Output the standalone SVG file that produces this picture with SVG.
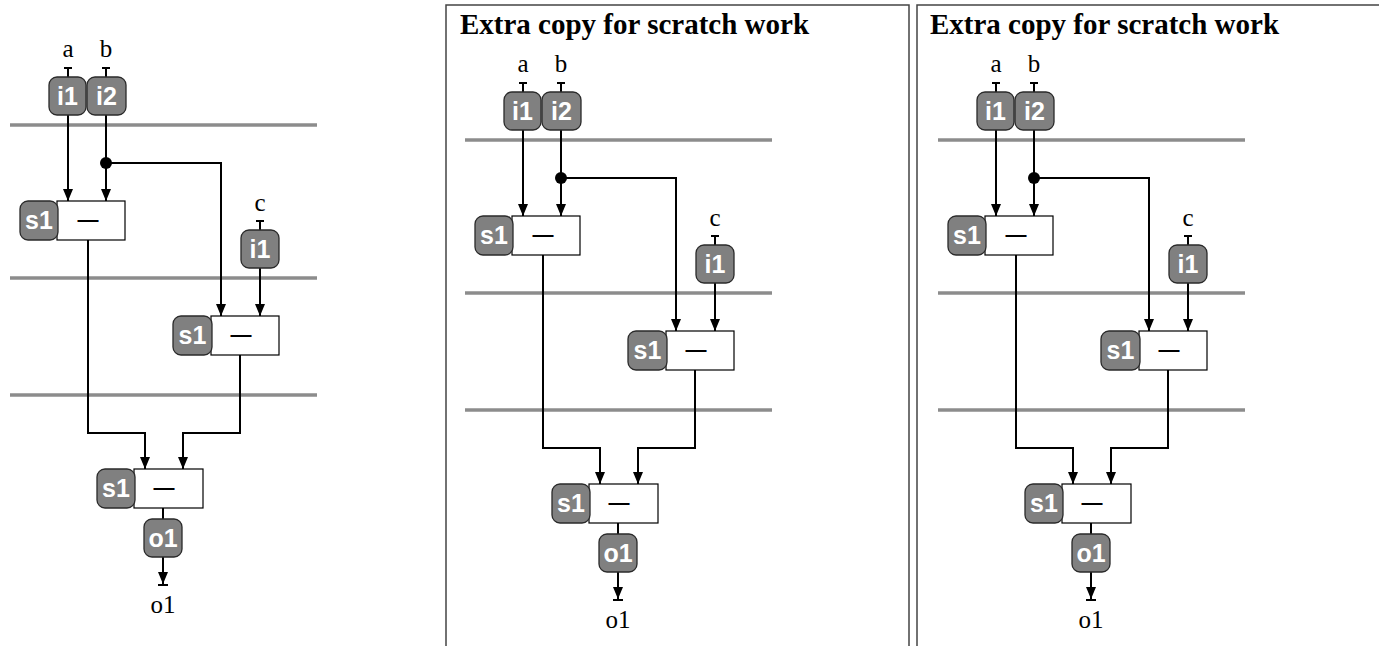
<svg xmlns="http://www.w3.org/2000/svg" width="1379" height="646" viewBox="0 0 1379 646">
<style>
.bg{fill:#fff}
.panel{fill:none;stroke:#444;stroke-width:1.5}
.title{font-family:"Liberation Serif",serif;font-weight:bold;font-size:29px;fill:#000}
.lbl{font-family:"Liberation Serif",serif;font-size:25px;fill:#000;text-anchor:middle}
.sep{stroke:#8c8c8c;stroke-width:3.5}
.nd{fill:#808080;stroke:#2a2a2a;stroke-width:1.3}
.nt{font-family:"Liberation Sans",sans-serif;font-weight:bold;font-size:25px;fill:#fff;text-anchor:middle}
.op{fill:#fff;stroke:#000;stroke-width:1.2}
.ot{font-family:"Liberation Sans",sans-serif;font-weight:bold;font-size:21px;fill:#000;text-anchor:middle}
.w{fill:none;stroke:#000;stroke-width:2}
.wa{fill:none;stroke:#000;stroke-width:2;marker-end:url(#ah)}
</style>
<defs>
<marker id="ah" viewBox="0 0 12 10" markerWidth="12" markerHeight="10" refX="12" refY="5" orient="auto" markerUnits="userSpaceOnUse">
<path d="M0,0 L12,5 L0,10 z" fill="#000"/>
</marker>
</defs>
<rect class="bg" x="0" y="0" width="1379" height="646"/>
<g id="panels">
<path class="panel" d="M446,650 V5 H909 V650"/>
<path class="panel" d="M917,650 V5 H1385"/>
<text class="title" x="460" y="34">Extra copy for scratch work</text>
<text class="title" x="930" y="34">Extra copy for scratch work</text>
</g>

<!-- Diagram 1 -->
<g id="d1">
<g id="d1-stages">
<line class="sep" x1="10" y1="125" x2="317" y2="125"/>
<line class="sep" x1="10" y1="278" x2="317" y2="278"/>
<line class="sep" x1="10" y1="395" x2="317" y2="395"/>
</g>
<g id="d1-connectors">
<path class="w" d="M64,68 H72 M68,68 V77 M102,68 H110 M106,68 V77 M256,221 H264 M260,221 V230"/>
<path class="wa" d="M68,115 V201"/>
<path class="wa" d="M106,115 V201"/>
<path class="wa" d="M106,163 H221 V316"/>
<path class="wa" d="M260,268 V316"/>
<path class="wa" d="M88,240 V433 H145 V469"/>
<path class="wa" d="M240,355 V433 H183 V469"/>
<path class="w" d="M163,508 V519"/>
<path class="wa" d="M163,557 V584"/>
<path class="w" d="M158,585 H168"/>
<circle cx="106" cy="163" r="6" fill="#000"/>
</g>
<g id="d1-in-a"><text class="lbl" x="68" y="57">a</text><rect class="nd" x="49" y="77" width="37" height="38" rx="8"/><text class="nt" x="67.5" y="105">i1</text></g>
<g id="d1-in-b"><text class="lbl" x="106" y="57">b</text><rect class="nd" x="87" y="77" width="39" height="38" rx="8"/><text class="nt" x="106.5" y="105">i2</text></g>
<g id="d1-s1a"><rect class="op" x="57" y="201" width="68" height="39"/><text class="ot" x="88" y="226">—</text><rect class="nd" x="20" y="201" width="38" height="39" rx="8"/><text class="nt" x="39" y="229">s1</text></g>
<g id="d1-in-c"><text class="lbl" x="260" y="211">c</text><rect class="nd" x="241" y="230" width="38" height="38" rx="8"/><text class="nt" x="260" y="258">i1</text></g>
<g id="d1-s1b"><rect class="op" x="211" y="316" width="68" height="39"/><text class="ot" x="241" y="341">—</text><rect class="nd" x="173" y="316" width="39" height="39" rx="8"/><text class="nt" x="192.5" y="344">s1</text></g>
<g id="d1-s1c"><rect class="op" x="134" y="469" width="69" height="39"/><text class="ot" x="164" y="494">—</text><rect class="nd" x="97" y="469" width="38" height="39" rx="8"/><text class="nt" x="116" y="497">s1</text></g>
<g id="d1-out"><rect class="nd" x="144" y="519" width="38" height="38" rx="8"/><text class="nt" x="163" y="547">o1</text><text class="lbl" x="163" y="613">o1</text></g>
</g>

<!-- Diagram 2 -->
<g id="d2" transform="translate(455,15)">
<g id="d2-stages">
<line class="sep" x1="10" y1="125" x2="317" y2="125"/>
<line class="sep" x1="10" y1="278" x2="317" y2="278"/>
<line class="sep" x1="10" y1="395" x2="317" y2="395"/>
</g>
<g id="d2-connectors">
<path class="w" d="M64,68 H72 M68,68 V77 M102,68 H110 M106,68 V77 M256,221 H264 M260,221 V230"/>
<path class="wa" d="M68,115 V201"/>
<path class="wa" d="M106,115 V201"/>
<path class="wa" d="M106,163 H221 V316"/>
<path class="wa" d="M260,268 V316"/>
<path class="wa" d="M88,240 V433 H145 V469"/>
<path class="wa" d="M240,355 V433 H183 V469"/>
<path class="w" d="M163,508 V519"/>
<path class="wa" d="M163,557 V584"/>
<path class="w" d="M158,585 H168"/>
<circle cx="106" cy="163" r="6" fill="#000"/>
</g>
<g id="d2-in-a"><text class="lbl" x="68" y="57">a</text><rect class="nd" x="49" y="77" width="37" height="38" rx="8"/><text class="nt" x="67.5" y="105">i1</text></g>
<g id="d2-in-b"><text class="lbl" x="106" y="57">b</text><rect class="nd" x="87" y="77" width="39" height="38" rx="8"/><text class="nt" x="106.5" y="105">i2</text></g>
<g id="d2-s1a"><rect class="op" x="57" y="201" width="68" height="39"/><text class="ot" x="88" y="226">—</text><rect class="nd" x="20" y="201" width="38" height="39" rx="8"/><text class="nt" x="39" y="229">s1</text></g>
<g id="d2-in-c"><text class="lbl" x="260" y="211">c</text><rect class="nd" x="241" y="230" width="38" height="38" rx="8"/><text class="nt" x="260" y="258">i1</text></g>
<g id="d2-s1b"><rect class="op" x="211" y="316" width="68" height="39"/><text class="ot" x="241" y="341">—</text><rect class="nd" x="173" y="316" width="39" height="39" rx="8"/><text class="nt" x="192.5" y="344">s1</text></g>
<g id="d2-s1c"><rect class="op" x="134" y="469" width="69" height="39"/><text class="ot" x="164" y="494">—</text><rect class="nd" x="97" y="469" width="38" height="39" rx="8"/><text class="nt" x="116" y="497">s1</text></g>
<g id="d2-out"><rect class="nd" x="144" y="519" width="38" height="38" rx="8"/><text class="nt" x="163" y="547">o1</text><text class="lbl" x="163" y="613">o1</text></g>
</g>

<!-- Diagram 3 -->
<g id="d3" transform="translate(928,15)">
<g id="d3-stages">
<line class="sep" x1="10" y1="125" x2="317" y2="125"/>
<line class="sep" x1="10" y1="278" x2="317" y2="278"/>
<line class="sep" x1="10" y1="395" x2="317" y2="395"/>
</g>
<g id="d3-connectors">
<path class="w" d="M64,68 H72 M68,68 V77 M102,68 H110 M106,68 V77 M256,221 H264 M260,221 V230"/>
<path class="wa" d="M68,115 V201"/>
<path class="wa" d="M106,115 V201"/>
<path class="wa" d="M106,163 H221 V316"/>
<path class="wa" d="M260,268 V316"/>
<path class="wa" d="M88,240 V433 H145 V469"/>
<path class="wa" d="M240,355 V433 H183 V469"/>
<path class="w" d="M163,508 V519"/>
<path class="wa" d="M163,557 V584"/>
<path class="w" d="M158,585 H168"/>
<circle cx="106" cy="163" r="6" fill="#000"/>
</g>
<g id="d3-in-a"><text class="lbl" x="68" y="57">a</text><rect class="nd" x="49" y="77" width="37" height="38" rx="8"/><text class="nt" x="67.5" y="105">i1</text></g>
<g id="d3-in-b"><text class="lbl" x="106" y="57">b</text><rect class="nd" x="87" y="77" width="39" height="38" rx="8"/><text class="nt" x="106.5" y="105">i2</text></g>
<g id="d3-s1a"><rect class="op" x="57" y="201" width="68" height="39"/><text class="ot" x="88" y="226">—</text><rect class="nd" x="20" y="201" width="38" height="39" rx="8"/><text class="nt" x="39" y="229">s1</text></g>
<g id="d3-in-c"><text class="lbl" x="260" y="211">c</text><rect class="nd" x="241" y="230" width="38" height="38" rx="8"/><text class="nt" x="260" y="258">i1</text></g>
<g id="d3-s1b"><rect class="op" x="211" y="316" width="68" height="39"/><text class="ot" x="241" y="341">—</text><rect class="nd" x="173" y="316" width="39" height="39" rx="8"/><text class="nt" x="192.5" y="344">s1</text></g>
<g id="d3-s1c"><rect class="op" x="134" y="469" width="69" height="39"/><text class="ot" x="164" y="494">—</text><rect class="nd" x="97" y="469" width="38" height="39" rx="8"/><text class="nt" x="116" y="497">s1</text></g>
<g id="d3-out"><rect class="nd" x="144" y="519" width="38" height="38" rx="8"/><text class="nt" x="163" y="547">o1</text><text class="lbl" x="163" y="613">o1</text></g>
</g>
</svg>
